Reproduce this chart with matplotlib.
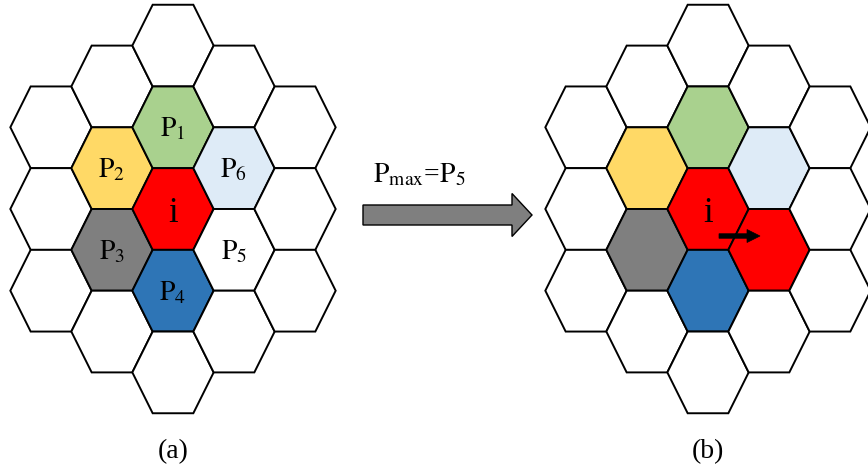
import matplotlib.pyplot as plt
from matplotlib.patches import Polygon, FancyArrow

plt.rcParams['mathtext.fontset'] = 'stix'
plt.rcParams['font.family'] = 'Liberation Serif'

# hex grid (axial coords q, r), radius 2 around the centre cell i
grid_radius = 2
neighbour_offsets = [(0, -1), (-1, 0), (-1, 1), (0, 1), (1, 0), (1, -1)]
neighbour_labels = ['P1', 'P2', 'P3', 'P4', 'P5', 'P6']
neighbour_colors = ['#A9D18E', '#FFD966', '#7F7F7F', '#2E75B6', '#FFFFFF', '#DEEBF7']
centre_color = '#FF0000'
target = 'P5'
arrow_text = r'$\mathrm{P_{max}}$=$\mathrm{P_5}$'
captions = ['(a)', '(b)']

# layout (pixels)
W, H = 868, 471
panel_x = [173, 708]
panel_y = 209
col_dx = 61.0
row_dy = 81.7
hx = col_dx / 1.5
hy = row_dy / 2


def hex_center(ox, q, r):
    return ox + q * col_dx, panel_y + (r + q / 2) * row_dy


def hex_verts(cx, cy):
    return [(cx - hx, cy), (cx - hx / 2, cy - hy), (cx + hx / 2, cy - hy),
            (cx + hx, cy), (cx + hx / 2, cy + hy), (cx - hx / 2, cy + hy)]


def sub_label(s):
    return r'$\mathrm{%s_%s}$' % (s[0], s[1:])


fig = plt.figure(figsize=(W / 100, H / 100), dpi=100)
ax = fig.add_axes([0, 0, 1, 1])
ax.set_xlim(0, W)
ax.set_ylim(H, 0)
ax.axis('off')

for panel, ox in enumerate(panel_x):
    colors = {(0, 0): centre_color}
    for off, lab, c in zip(neighbour_offsets, neighbour_labels, neighbour_colors):
        colors[off] = c
        if panel == 1 and lab == target:
            colors[off] = centre_color
    for q in range(-grid_radius, grid_radius + 1):
        for r in range(-grid_radius, grid_radius + 1):
            if abs(q + r) > grid_radius:
                continue
            cx, cy = hex_center(ox, q, r)
            ax.add_patch(Polygon(hex_verts(cx, cy), closed=True,
                                 fc=colors.get((q, r), 'white'), ec='black',
                                 lw=1.4, joinstyle='miter'))
    cx, cy = hex_center(ox, 0, 0)
    ax.text(cx, cy + 13, 'i', fontsize=25, ha='center', va='baseline')
    if panel == 0:
        for off, lab in zip(neighbour_offsets, neighbour_labels):
            x, y = hex_center(ox, *off)
            ax.text(x, y + 9, sub_label(lab), fontsize=20, ha='center', va='baseline')
    else:
        ax.add_patch(FancyArrow(cx + 11, cy + 27, 41, 0, width=4.5, head_width=13,
                                head_length=13, length_includes_head=True,
                                fc='black', ec='black', lw=0.5))
    ax.text(ox, 458, captions[panel], fontsize=20, ha='center', va='baseline')

# transition arrow
ax.add_patch(FancyArrow(363, 215, 169, 0, width=20, head_width=43, head_length=20,
                        length_includes_head=True, fc='#7F7F7F', ec='black', lw=1))
ax.text(373, 182, arrow_text, fontsize=20, ha='left', va='baseline')

fig.savefig('out.png', dpi=100)
